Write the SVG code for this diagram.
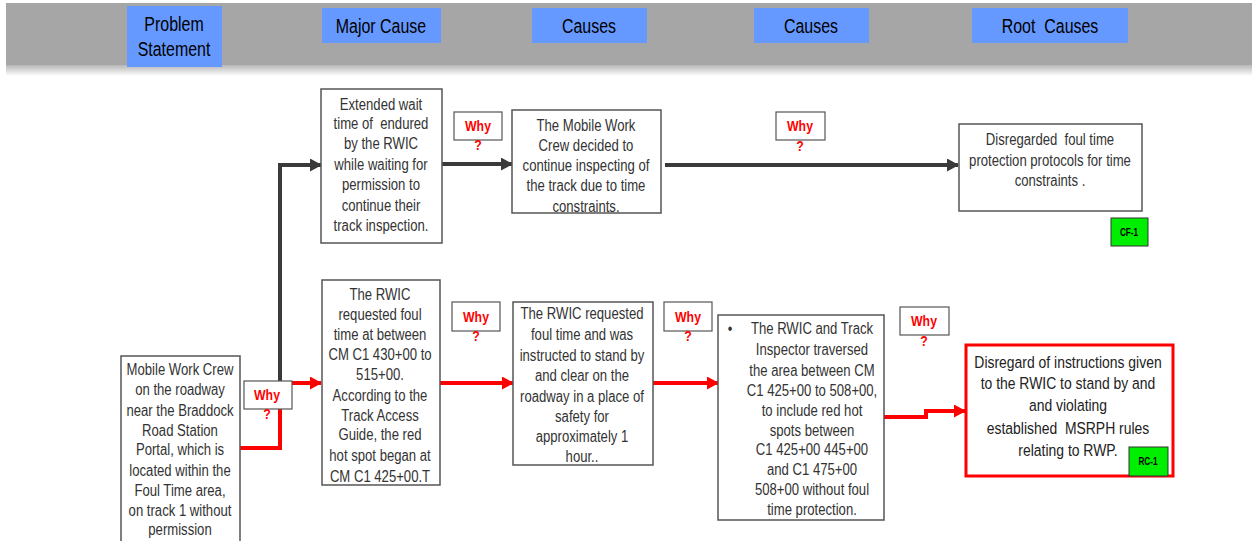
<svg xmlns="http://www.w3.org/2000/svg" width="1252" height="541" viewBox="0 0 1252 541">
<defs>
<linearGradient id="shadow" x1="0" y1="0" x2="0" y2="1">
<stop offset="0" stop-color="#b0b0b0"/>
<stop offset="1" stop-color="#ffffff"/>
</linearGradient>
<marker id="arrDark" markerUnits="userSpaceOnUse" markerWidth="12" markerHeight="13" refX="11" refY="6.5" orient="auto">
<path d="M0,0 L12,6.5 L0,13 z" fill="#3a3a3a"/>
</marker>
<marker id="arrRed" markerUnits="userSpaceOnUse" markerWidth="12" markerHeight="13" refX="11" refY="6.5" orient="auto">
<path d="M0,0 L12,6.5 L0,13 z" fill="#ff0000"/>
</marker>
</defs>
<style>
text{white-space:pre}
.box{fill:#ffffff;stroke:#555555;stroke-width:1.5}
.t{font-family:"Liberation Sans",Arial,sans-serif;font-size:16px;fill:#333333;text-anchor:middle}
.big{font-size:17px;fill:#222222}
.hdr{fill:#6699ff}
.ht{font-family:"Liberation Sans",Arial,sans-serif;font-size:21px;fill:#000000;text-anchor:middle}
.why{fill:#ffffff;stroke:#555555;stroke-width:1.2}
.wt{font-family:"Liberation Sans",Arial,sans-serif;font-size:15px;font-weight:bold;fill:#ff0000;text-anchor:middle}
.tag{fill:#00ee00;stroke:#333333;stroke-width:1}
.tt{font-family:"Liberation Sans",Arial,sans-serif;font-size:10px;font-weight:bold;fill:#000000;text-anchor:middle}
.dark{fill:none;stroke:#3a3a3a;stroke-width:4;marker-end:url(#arrDark)}
.red{fill:none;stroke:#ff0000;stroke-width:4;marker-end:url(#arrRed)}
.redn{fill:none;stroke:#ff0000;stroke-width:4}
</style>
<rect x="0" y="0" width="1252" height="541" fill="#ffffff"/>
<g id="header">
<rect x="6" y="64" width="1246" height="12" fill="url(#shadow)"/>
<rect x="6" y="3" width="1246" height="62" fill="#a6a6a6"/>
<rect class="hdr" x="127" y="6" width="95" height="61"/>
<g transform="translate(174 0) scale(0.76 1)">
<text class="ht" x="0" y="31">Problem</text>
<text class="ht" x="0" y="56">Statement</text>
</g>
<rect class="hdr" x="322" y="8" width="119" height="35"/>
<text class="ht" transform="translate(381 0) scale(0.76 1)" x="0" y="33">Major Cause</text>
<rect class="hdr" x="532" y="8" width="115" height="35"/>
<text class="ht" transform="translate(589 0) scale(0.76 1)" x="0" y="33">Causes</text>
<rect class="hdr" x="754" y="8" width="115" height="35"/>
<text class="ht" transform="translate(811 0) scale(0.76 1)" x="0" y="33">Causes</text>
<rect class="hdr" x="972" y="8" width="156" height="35"/>
<text class="ht" transform="translate(1050 0) scale(0.76 1)" x="0" y="33">Root  Causes</text>
</g>
<g id="connectors">
<path class="dark" d="M280,381 V165 H321"/>
<path class="dark" d="M442,164 H512"/>
<path class="dark" d="M665,165 H958"/>
<path class="redn" d="M240,448 H280 V409"/>
<path class="red" d="M292,383 H321"/>
<path class="red" d="M440,383 H513"/>
<path class="red" d="M653,383 H718"/>
<path class="red" d="M884,417 H926 V411 H965"/>
</g>
<g id="problem">
<rect class="box" x="121" y="356" width="119" height="190"/>
<g transform="translate(180 0) scale(0.82 1)">
<text class="t" x="0" y="375">Mobile Work Crew</text>
<text class="t" x="0" y="395">on the roadway</text>
<text class="t" x="0" y="416">near the Braddock</text>
<text class="t" x="0" y="436">Road Station</text>
<text class="t" x="0" y="455">Portal, which is</text>
<text class="t" x="0" y="476">located within the</text>
<text class="t" x="0" y="496">Foul Time area,</text>
<text class="t" x="0" y="516">on track 1 without</text>
<text class="t" x="0" y="535">permission</text>
</g>
</g>
<g id="why1">
<rect class="why" x="244" y="381" width="48" height="28"/>
<g transform="translate(267 0) scale(0.82 1)">
<text class="wt" x="0" y="400">Why</text>
<text class="wt" x="0" y="419">?</text>
</g>
</g>
<g id="major1">
<rect class="box" x="321" y="89" width="121" height="154"/>
<g transform="translate(381 0) scale(0.82 1)">
<text class="t" x="0" y="110">Extended wait</text>
<text class="t" x="0" y="129">time of  endured</text>
<text class="t" x="0" y="149">by the RWIC</text>
<text class="t" x="0" y="170">while waiting for</text>
<text class="t" x="0" y="190">permission to</text>
<text class="t" x="0" y="211">continue their</text>
<text class="t" x="0" y="231">track inspection.</text>
</g>
</g>
<g id="why2">
<rect class="why" x="454" y="112" width="48" height="28"/>
<g transform="translate(478 0) scale(0.82 1)">
<text class="wt" x="0" y="131">Why</text>
<text class="wt" x="0" y="150">?</text>
</g>
</g>
<g id="cause1">
<rect class="box" x="512" y="110" width="149" height="103"/>
<g transform="translate(586 0) scale(0.82 1)">
<text class="t" x="0" y="131">The Mobile Work</text>
<text class="t" x="0" y="151">Crew decided to</text>
<text class="t" x="0" y="171">continue inspecting of</text>
<text class="t" x="0" y="191">the track due to time</text>
<text class="t" x="0" y="212">constraints.</text>
</g>
</g>
<g id="why3">
<rect class="why" x="776" y="112" width="49" height="28"/>
<g transform="translate(800 0) scale(0.82 1)">
<text class="wt" x="0" y="131">Why</text>
<text class="wt" x="0" y="151">?</text>
</g>
</g>
<g id="rootcf">
<rect class="box" x="959" y="124" width="183" height="87"/>
<g transform="translate(1050 0) scale(0.82 1)">
<text class="t" x="0" y="145">Disregarded  foul time</text>
<text class="t" x="0" y="166">protection protocols for time</text>
<text class="t" x="0" y="186">constraints .</text>
</g>
</g>
<g id="cf1">
<rect class="tag" x="1111" y="218" width="37" height="28"/>
<text class="tt" transform="translate(1129 0) scale(0.82 1)" x="0" y="236">CF-1</text>
</g>
<g id="major2">
<rect class="box" x="322" y="280" width="118" height="205"/>
<g transform="translate(380 0) scale(0.82 1)">
<text class="t" x="0" y="300">The RWIC</text>
<text class="t" x="0" y="320">requested foul</text>
<text class="t" x="0" y="340">time at between</text>
<text class="t" x="0" y="360">CM C1 430+00 to</text>
<text class="t" x="0" y="380">515+00.</text>
<text class="t" x="0" y="401">According to the</text>
<text class="t" x="0" y="421">Track Access</text>
<text class="t" x="0" y="440">Guide, the red</text>
<text class="t" x="0" y="461">hot spot began at</text>
<text class="t" x="0" y="482">CM C1 425+00.T</text>
</g>
</g>
<g id="why4">
<rect class="why" x="452" y="302" width="48" height="29"/>
<g transform="translate(476 0) scale(0.82 1)">
<text class="wt" x="0" y="322">Why</text>
<text class="wt" x="0" y="341">?</text>
</g>
</g>
<g id="cause2">
<rect class="box" x="513" y="302" width="140" height="163"/>
<g transform="translate(582 0) scale(0.82 1)">
<text class="t" x="0" y="319">The RWIC requested</text>
<text class="t" x="0" y="340">foul time and was</text>
<text class="t" x="0" y="361">instructed to stand by</text>
<text class="t" x="0" y="381">and clear on the</text>
<text class="t" x="0" y="402">roadway in a place of</text>
<text class="t" x="0" y="422">safety for</text>
<text class="t" x="0" y="442">approximately 1</text>
<text class="t" x="0" y="462">hour..</text>
</g>
</g>
<g id="why5">
<rect class="why" x="664" y="302" width="48" height="29"/>
<g transform="translate(688 0) scale(0.82 1)">
<text class="wt" x="0" y="322">Why</text>
<text class="wt" x="0" y="341">?</text>
</g>
</g>
<g id="cause3">
<rect class="box" x="718" y="315" width="166" height="205"/>
<g transform="translate(812 0) scale(0.82 1)">
<text class="t" x="-100" y="334">•</text>
<text class="t" x="0" y="334">The RWIC and Track</text>
<text class="t" x="0" y="355">Inspector traversed</text>
<text class="t" x="0" y="376">the area between CM</text>
<text class="t" x="0" y="396">C1 425+00 to 508+00,</text>
<text class="t" x="0" y="416">to include red hot</text>
<text class="t" x="0" y="436">spots between</text>
<text class="t" x="0" y="455">C1 425+00 445+00</text>
<text class="t" x="0" y="475">and C1 475+00</text>
<text class="t" x="0" y="495">508+00 without foul</text>
<text class="t" x="0" y="515">time protection.</text>
</g>
</g>
<g id="why6">
<rect class="why" x="900" y="307" width="49" height="28"/>
<g transform="translate(924 0) scale(0.82 1)">
<text class="wt" x="0" y="326">Why</text>
<text class="wt" x="0" y="346">?</text>
</g>
</g>
<g id="rootrc">
<rect x="966" y="345" width="207" height="131" fill="#ffffff" stroke="#ff0000" stroke-width="3"/>
<g transform="translate(1068 0) scale(0.82 1)">
<text class="t big" x="0" y="368">Disregard of instructions given</text>
<text class="t big" x="0" y="389">to the RWIC to stand by and</text>
<text class="t big" x="0" y="411">and violating</text>
<text class="t big" x="0" y="434">established  MSRPH rules</text>
<text class="t big" x="0" y="456">relating to RWP.</text>
</g>
</g>
<g id="rc1">
<rect class="tag" x="1129" y="447" width="39" height="29"/>
<text class="tt" transform="translate(1148 0) scale(0.82 1)" x="0" y="465">RC-1</text>
</g>
</svg>
